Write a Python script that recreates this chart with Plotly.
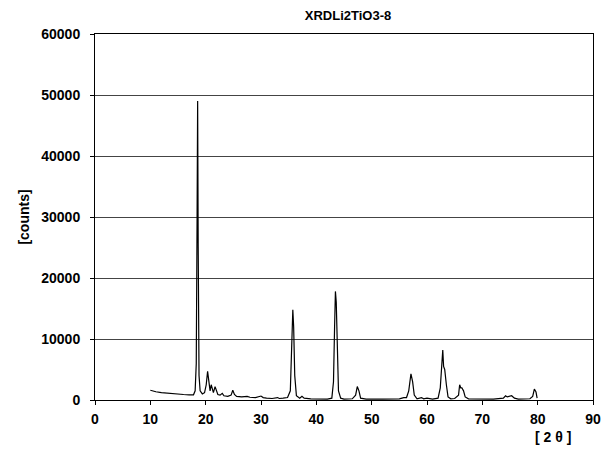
import plotly.graph_objects as go

two_theta = [10.0, 10.5, 11, 12, 13, 14, 15, 16, 17, 17.8, 18.1, 18.3, 18.45, 18.55, 18.65, 18.8, 19.0, 19.4, 19.8,
             20.1, 20.35, 20.6, 20.8, 21.0, 21.2, 21.4, 21.7, 21.9, 22.2, 22.6, 23.0, 23.3, 24.0, 24.6, 24.9, 25.2,
             25.6, 26.5, 27.5, 28, 29, 30.0, 30.4, 31, 32, 33, 33.3, 34, 34.8, 35.3, 35.6, 35.75, 35.9, 36.1, 36.4,
             37, 37.4, 37.8, 39, 40, 42, 42.8, 43.1, 43.3, 43.45, 43.6, 43.8, 44.0, 44.4, 45, 46.5, 47.1, 47.4, 47.7,
             48, 49, 52, 55, 55.8, 56.3, 56.7, 57.1, 57.4, 57.7, 58.2, 59, 59.4, 60, 61, 62.0, 62.4, 62.7, 62.85,
             63.0, 63.2, 63.5, 63.8, 64.3, 65, 65.7, 65.9, 66.1, 66.3, 66.6, 66.9, 67.5, 70, 72, 73.8, 74.2, 74.5,
             74.9, 75.3, 75.8, 76.5, 78.6, 79.1, 79.4, 79.7, 79.9]
counts = [1600, 1450, 1350, 1200, 1100, 1000, 950, 900, 850, 850, 1500, 6000, 30000, 49000, 25000, 4000, 1500, 1000, 1200,
          2500, 4700, 2200, 1500, 2500, 1800, 1200, 2200, 1500, 900, 800, 1100, 700, 600, 800, 1600, 900,
          600, 500, 600, 450, 400, 650, 400, 300, 250, 400, 250, 300, 400, 1500, 9000, 14800, 12000, 4000, 700,
          300, 600, 300, 200, 150, 150, 300, 3000, 12000, 17800, 16000, 8000, 1500, 300, 150, 200, 800, 2200, 1500,
          300, 150, 150, 200, 400, 400, 1500, 4300, 3000, 800, 200, 400, 200, 300, 150, 300, 2000, 6000, 8200,
          5500, 5000, 2500, 500, 200, 250, 800, 2500, 2000, 2000, 1500, 500, 200, 150, 150, 300, 700, 500,
          600, 700, 300, 150, 200, 600, 1800, 1300, 300]

x_ticks = [0, 10, 20, 30, 40, 50, 60, 70, 80, 90]
y_ticks = [0, 10000, 20000, 30000, 40000, 50000, 60000]
y_tick_labels = [str(v) for v in y_ticks]

fam = "Liberation Sans, Arial, sans-serif"
tick_font = dict(family=fam, size=14, color="black", weight="bold")
title_font = dict(family=fam, size=13, color="black", weight="bold")

fig = go.Figure(go.Scatter(x=two_theta, y=counts, mode="lines",
                           line=dict(color="black", width=1.2), showlegend=False))

fig.update_layout(
    width=612, height=449,
    margin=dict(l=95, r=11, t=34, b=49),
    paper_bgcolor="white", plot_bgcolor="white",
    font=tick_font,
    title=dict(text="XRDLi2TiO3-8", x=348 / 612, xanchor="center", y=1 - 15 / 449, yanchor="middle",
               font=title_font),
    xaxis=dict(range=[0, 90], tickvals=x_ticks, ticks="outside", ticklen=4, tickcolor="black",
               showgrid=False, showline=True, linecolor="black", linewidth=1, mirror=True,
               zeroline=False, tickfont=tick_font, ticklabelstandoff=2),
    yaxis=dict(range=[0, 60000], tickvals=y_ticks, ticktext=y_tick_labels, ticks="outside", ticklen=4,
               tickcolor="black", showgrid=True, gridcolor="#444444", gridwidth=1, showline=True,
               linecolor="black", linewidth=1, mirror=True, zeroline=False, tickfont=tick_font,
               ticklabelstandoff=7,
               title=dict(text="[counts]", font=dict(family=fam, size=14, color="black", weight="bold"),
                          standoff=8)),
    annotations=[dict(text="[ 2 θ ]", x=(560 - 95) / 506, y=-37 / 366, xref="paper", yref="paper",
                      xanchor="center", yanchor="middle", showarrow=False,
                      font=dict(family=fam, size=14, color="black"))],
)

fig.write_html("out.html")
